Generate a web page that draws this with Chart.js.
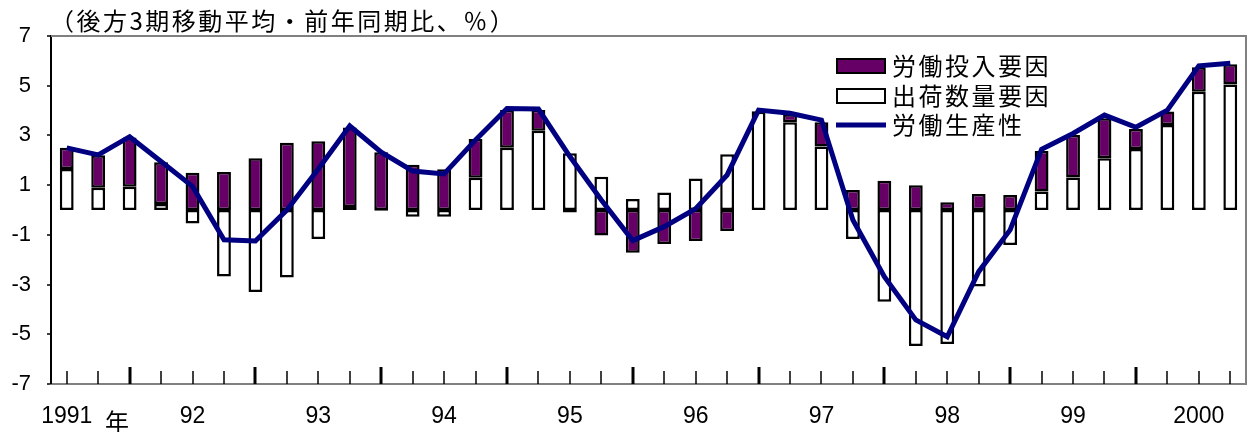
<!DOCTYPE html>
<html><head><meta charset="utf-8">
<script src="https://cdn.jsdelivr.net/npm/chart.js@4/dist/chart.umd.min.js"></script>
<style>html,body{margin:0;padding:0;background:#fff;}#wrap{width:1251px;height:432px;}</style>
</head><body><div id="wrap"><canvas id="c" width="1251" height="432"></canvas></div>
<script>
const categories = [
  '1991/Q1','1991/Q2','1991/Q3','1991/Q4','1992/Q1','1992/Q2','1992/Q3','1992/Q4',
  '1993/Q1','1993/Q2','1993/Q3','1993/Q4','1994/Q1','1994/Q2','1994/Q3','1994/Q4',
  '1995/Q1','1995/Q2','1995/Q3','1995/Q4','1996/Q1','1996/Q2','1996/Q3','1996/Q4',
  '1997/Q1','1997/Q2','1997/Q3','1997/Q4','1998/Q1','1998/Q2','1998/Q3','1998/Q4',
  '1999/Q1','1999/Q2','1999/Q3','1999/Q4','2000/Q1','2000/Q2'];
const yearLabels = ['1991','92','93','94','95','96','97','98','99','2000'];
const yearSuffix = '年';
const yTicks = [-7,-5,-3,-1,1,3,5,7];
const shipment = [1.65,0.9,0.94,0.24, -0.54,-2.68,-3.3,-2.72, -1.17,0.12,-0.03,-0.27,
  -0.27,1.3,2.5,3.19, 2.28,1.34,0.44,0.7, 1.27,2.24,3.95,3.53, 2.55,-1.17,-3.69,-5.47,
  -5.39,-3.08,-1.41,0.74, 1.31,2.08,2.45,3.42, 4.76,5.05];
const laborInput = [0.85,1.3,1.98,1.68, 1.5,1.53,2.08,2.71, 2.77,3.2,2.32,1.82,
  1.64,1.56,1.52,0.83, -0.1,-1.03,-1.72,-1.37, -1.25,-0.84,0.03,0.32, 0.98,0.8,1.18,1.0,
  0.31,0.64,0.6,1.63, 1.71,1.61,0.81,0.54, 0.98,0.81];
const productivity = [2.5,2.22,2.95,1.95, 0.95,-1.2,-1.25,0.0, 1.65,3.38,2.33,1.57,
  1.45,2.82,4.08,4.06, 2.15,0.4,-1.23,-0.67, 0.05,1.41,4.02,3.89, 3.62,-0.4,-2.68,-4.42,
  -5.1,-2.48,-0.8,2.44, 3.08,3.82,3.33,4.02, 5.8,5.9];
const titleText = '（後方3期移動平均・前年同期比、％）';
const legendLabels = ['労働投入要因','出荷数量要因','労働生産性'];

const PURPLE = '#660066', NAVY = '#000080', GRAY = '#808080';
const CJK = '24px "Noto Sans CJK JP"';
const NUM = '"Liberation Sans", Arial, sans-serif';

const decor = {
  id: 'decor',
  afterDraw(chart) {
    const ctx = chart.ctx, a = chart.chartArea, xs = chart.scales.x;
    ctx.save();
    ctx.strokeStyle = GRAY; ctx.lineWidth = 2;
    ctx.beginPath(); ctx.moveTo(a.left, a.top); ctx.lineTo(a.right, a.top); ctx.lineTo(a.right, a.bottom); ctx.stroke();
    ctx.strokeStyle = '#000';
    for (let i = 0; i < categories.length; i++) {
      const x = Math.round(xs.getPixelForValue(i));
      const thick = i % 4 === 2;
      ctx.lineWidth = thick ? 3 : 1.5;
      ctx.beginPath(); ctx.moveTo(x, a.bottom); ctx.lineTo(x, a.bottom - (thick ? 17 : 13)); ctx.stroke();
    }
    ctx.fillStyle = '#000';
    ctx.font = CJK;
    try { ctx.letterSpacing = '2.5px'; } catch (e) {}
    ctx.textBaseline = 'middle'; ctx.textAlign = 'left';
    ctx.fillText(titleText, 50, 21);
    ctx.letterSpacing = '0px';
    ctx.fillText(yearSuffix, 105, 422);
    try { ctx.letterSpacing = '2.5px'; } catch (e) {}
    ctx.fillStyle = PURPLE; ctx.fillRect(837, 59, 48, 14);
    ctx.strokeStyle = '#000'; ctx.lineWidth = 2; ctx.strokeRect(837, 59, 48, 14);
    ctx.fillStyle = '#fff'; ctx.fillRect(837, 89, 48, 14);
    ctx.strokeRect(837, 89, 48, 14);
    ctx.strokeStyle = NAVY; ctx.lineWidth = 5;
    ctx.beginPath(); ctx.moveTo(836, 125); ctx.lineTo(886, 125); ctx.stroke();
    ctx.fillStyle = '#000';
    ctx.fillText(legendLabels[0], 892, 66);
    ctx.fillText(legendLabels[1], 892, 96);
    ctx.fillText(legendLabels[2], 892, 125);
    ctx.restore();
  }
};

const barCommon = { borderColor: '#000', borderWidth: 2.5, borderSkipped: false,
  barPercentage: 0.44, categoryPercentage: 1.0, stack: 'bars' };

new Chart(document.getElementById('c'), {
  type: 'bar',
  data: {
    labels: categories,
    datasets: [
      Object.assign({ label: legendLabels[1], data: shipment, backgroundColor: '#fff', order: 2 }, barCommon),
      Object.assign({ label: legendLabels[0], data: laborInput, backgroundColor: PURPLE, order: 2 }, barCommon),
      { type: 'line', label: legendLabels[2], data: productivity, borderColor: NAVY, borderWidth: 5,
        pointRadius: 0, tension: 0, fill: false, order: 0, stack: 'line', borderJoinStyle: 'miter' }
    ]
  },
  options: {
    responsive: false, animation: false, devicePixelRatio: 1,
    layout: { padding: { top: 36, right: 5, left: 0, bottom: 0 } },
    plugins: { legend: { display: false }, title: { display: false }, tooltip: { enabled: false } },
    scales: {
      x: {
        stacked: true, offset: true,
        grid: { display: false, drawTicks: false },
        border: { display: true, color: GRAY, width: 2 },
        ticks: { autoSkip: false, maxRotation: 0, minRotation: 0, padding: 19, color: '#000',
          font: { size: 23, family: NUM },
          callback: (v, i) => (i % 4 === 0 ? yearLabels[i / 4] : '') },
        afterFit: s => { s.height = 48; }
      },
      y: {
        stacked: true, min: -7, max: 7,
        afterBuildTicks: s => { s.ticks = yTicks.map(v => ({ value: v })); },
        grid: {
          color: c => (c.tick && c.tick.value === 0 ? GRAY : 'rgba(0,0,0,0)'),
          lineWidth: c => (c.tick && c.tick.value === 0 ? 1.5 : 0),
          drawTicks: true, tickLength: 4, tickColor: '#000', tickWidth: 1.5
        },
        border: { display: true, color: '#000', width: 2 },
        ticks: { padding: 16, color: '#000', font: { size: 22, family: NUM } },
        afterFit: s => { s.width = 51; }
      }
    }
  },
  plugins: [decor]
});
</script></body></html>
